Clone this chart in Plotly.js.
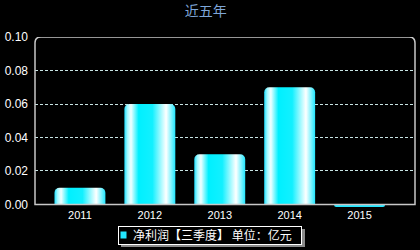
<!DOCTYPE html>
<html>
<head>
<meta charset="utf-8">
<script src="https://cdn.plot.ly/plotly-3.0.1.min.js"></script>
<style>
html,body{margin:0;padding:0;background:#000;}
#chart{width:420px;height:250px;}
</style>
</head>
<body>
<div id="chart"></div>
<script>
// ---- data ----
var years = ['2011', '2012', '2013', '2014', '2015'];
var netProfit = [0.01, 0.06, 0.03, 0.07, -0.0015];
var seriesName = '净利润【三季度】 单位：亿元';
var yTickVals = [0, 0.02, 0.04, 0.06, 0.08, 0.10];
var yTickText = ['0.00', '0.02', '0.04', '0.06', '0.08', '0.10'];
var chartTitle = '近五年';

var yMin = Math.min(0, Math.min.apply(null, netProfit));
var yMax = 0.1;
// frame with rounded top corners, from 0 up to the top of the axis
var rx = 6 / 380.5, ry = 6 * 0.1 / 167.5;
var framePath = 'M 0,0 L 0,' + (yMax - ry) + ' Q 0,' + yMax + ' ' + rx + ',' + yMax +
  ' L ' + (1 - rx) + ',' + yMax + ' Q 1,' + yMax + ' 1,' + (yMax - ry) + ' L 1,0 Z';

var trace = {
  type: 'bar',
  x: years,
  y: netProfit,
  name: seriesName,
  width: 51 / 70,
  cliponaxis: false,
  marker: { color: '#22e6ff', cornerradius: 5, line: { width: 0 } },
  showlegend: true,
  hoverinfo: 'none'
};

var layout = {
  width: 420, height: 250,
  paper_bgcolor: '#000', plot_bgcolor: '#000',
  margin: { l: 34.5, r: 5, t: 36.5, b: 250 - 204 - (-yMin) * 1675, pad: 0, autoexpand: false },
  title: { text: chartTitle, font: { family: 'Noto Sans CJK SC', size: 14, color: '#7ea6d8' },
           x: 0.49, xanchor: 'center', y: 0.954, yanchor: 'middle' },
  xaxis: {
    type: 'category', range: [-0.643, 4.793], automargin: false,
    showgrid: false, zeroline: false, showline: false, ticks: '',
    tickfont: { family: 'Liberation Sans, Arial', size: 11, color: '#fff' }
  },
  yaxis: {
    range: [yMin, yMax], tickvals: yTickVals, ticktext: yTickText, automargin: false,
    showgrid: true, gridcolor: '#c8e4e4', gridwidth: 1, griddash: '3px,2px',
    zeroline: false, showline: false, ticks: '', ticklabelstandoff: 6,
    tickfont: { family: 'Liberation Sans, Arial', size: 12, color: '#fff' }
  },
  showlegend: true,
  legend: {
    orientation: 'h', xref: 'container', yref: 'container',
    x: 118 / 420, xanchor: 'left', y: 1 - 226 / 250, yanchor: 'top',
    bgcolor: '#000', bordercolor: '#ffffff', borderwidth: 1,
    font: { family: 'Noto Sans CJK SC', size: 12, color: '#fff' },
    itemwidth: 30
  },
  shapes: [{
    type: 'path', xref: 'paper', yref: 'y', path: framePath,
    line: { color: '#c8c8c8', width: 1.5 }, fillcolor: 'rgba(0,0,0,0)', layer: 'above'
  }]
};

Plotly.newPlot('chart', [trace], layout, { staticPlot: true, displayModeBar: false }).then(function (gd) {
  var svg = gd.querySelector('svg.main-svg');
  var ns = 'http://www.w3.org/2000/svg';
  var defs = svg.querySelector('defs') || svg.insertBefore(document.createElementNS(ns, 'defs'), svg.firstChild);
  var grad = document.createElementNS(ns, 'linearGradient');
  grad.setAttribute('id', 'barGrad');
  grad.setAttribute('x1', '0'); grad.setAttribute('y1', '0');
  grad.setAttribute('x2', '1'); grad.setAttribute('y2', '0');
  var stops = [[0, '#20e0ff'], [0.06, '#a0f8ff'], [0.13, '#f2ffff'], [0.28, '#00f0ff'],
               [0.55, '#12f0ff'], [0.82, '#ffffff'], [0.92, '#80f4ff'], [1, '#20e6ff']];
  stops.forEach(function (s) {
    var st = document.createElementNS(ns, 'stop');
    st.setAttribute('offset', s[0]);
    st.setAttribute('stop-color', s[1]);
    grad.appendChild(st);
  });
  defs.appendChild(grad);
  gd.querySelectorAll('.barlayer .point path').forEach(function (p) {
    var bb = p.getBBox();
    if (bb.height > 4) p.style.fill = 'url(#barGrad)';
  });
  // compact legend: small symbol, text close to it, tight box, drop shadow
  var leg = gd.querySelector('.legend');
  if (leg) {
    var bg = leg.querySelector('rect.bg');
    var tr = leg.querySelector('g.traces');
    var txt = leg.querySelector('text.legendtext');
    var sym = leg.querySelector('.legendpoints path');
    var m = /translate\(\s*([-\d.]+)[ ,]+([-\d.]+)/.exec(tr.getAttribute('transform') || '');
    var tx = m ? parseFloat(m[1]) : 0;
    tr.setAttribute('transform', 'translate(' + tx + ',9)');
    txt.setAttribute('x', 15 - tx);
    if (sym) {
      sym.setAttribute('d', 'M-3,-3.5h6v7h-6z');
      sym.setAttribute('transform', 'translate(' + (5.5 - tx) + ',0)');
    }
    var tw = txt.getComputedTextLength();
    bg.setAttribute('x', 0); bg.setAttribute('y', 0);
    bg.setAttribute('width', 15 + tw + 10);
    bg.setAttribute('height', 18);
    var toggle = leg.querySelector('rect.legendtoggle');
    if (toggle) toggle.style.display = 'none';
    var sh = bg.cloneNode(true);
    sh.setAttribute('class', 'shadow');
    sh.style.fill = '#8a8a8a';
    sh.style.stroke = 'none';
    sh.setAttribute('transform', 'translate(3,3)');
    bg.parentNode.insertBefore(sh, bg);
  }
});
</script>
</body>
</html>
